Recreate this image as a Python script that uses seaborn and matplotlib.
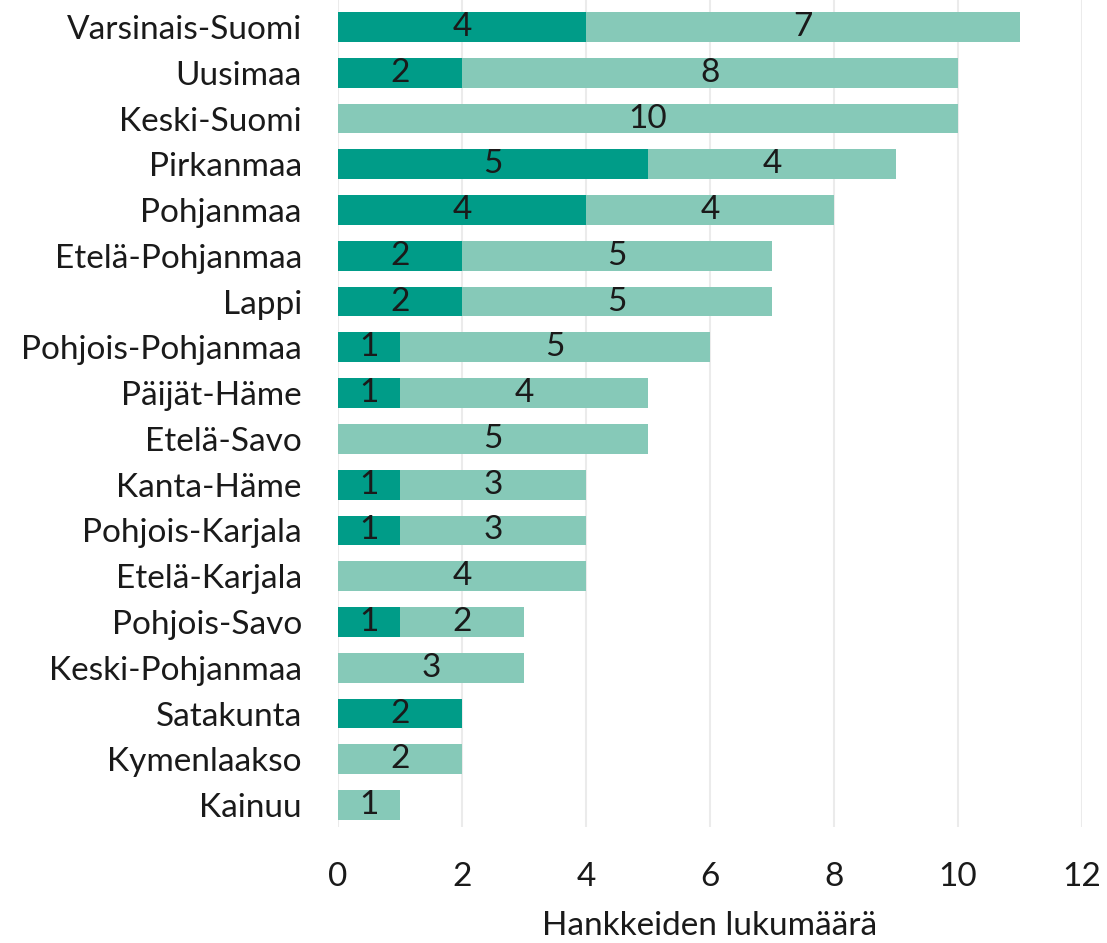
import matplotlib
matplotlib.use("Agg")
import matplotlib.pyplot as plt
import seaborn as sns
import pandas as pd

regions = ["Varsinais-Suomi", "Uusimaa", "Keski-Suomi", "Pirkanmaa", "Pohjanmaa",
           "Etelä-Pohjanmaa", "Lappi", "Pohjois-Pohjanmaa", "Päijät-Häme", "Etelä-Savo",
           "Kanta-Häme", "Pohjois-Karjala", "Etelä-Karjala", "Pohjois-Savo",
           "Keski-Pohjanmaa", "Satakunta", "Kymenlaakso", "Kainuu"]
dark_vals = [4, 2, 0, 5, 4, 2, 2, 1, 1, 0, 1, 1, 0, 1, 0, 2, 0, 0]
light_vals = [7, 8, 10, 4, 4, 5, 5, 5, 4, 5, 3, 3, 4, 2, 3, 0, 2, 1]
x_ticks = [0, 2, 4, 6, 8, 10, 12]
x_label = "Hankkeiden lukumäärä"

DARK = "#009C88"
LIGHT = "#86C9B8"
FS = 24

sns.set_theme(style="white")
plt.rcParams["font.family"] = ["Lato", "DejaVu Sans"]

df = pd.DataFrame({"region": regions, "dark": dark_vals, "light": light_vals})
df["total"] = df["dark"] + df["light"]

fig = plt.figure(figsize=(11.07, 9.43), dpi=100)
ax = fig.add_axes([0.3053, 0.123, 0.6721, 0.877])

sns.barplot(data=df, y="region", x="total", color=LIGHT, orient="h",
            width=0.65, saturation=1, linewidth=0, ax=ax, zorder=2)
sns.barplot(data=df, y="region", x="dark", color=DARK, orient="h",
            width=0.65, saturation=1, linewidth=0, ax=ax, zorder=3)

# labels
dark_container = ax.containers[1]
ax.bar_label(dark_container, labels=[str(v) if v > 0 else "" for v in dark_vals],
             label_type="center", fontsize=FS, color="#1a1a1a")
for i, (d, l) in enumerate(zip(dark_vals, light_vals)):
    if l > 0:
        ax.text(d + l / 2, i, str(l), ha="center", va="center",
                fontsize=FS, color="#1a1a1a", zorder=4)

ax.set_xlim(0, 12)
ax.set_ylim(17.48, -0.59)
ax.set_xticks(x_ticks)
ax.set_xticklabels([str(t) for t in x_ticks])
ax.set_xlabel(x_label, fontsize=FS, color="#1a1a1a", labelpad=14)
ax.set_ylabel("")
ax.tick_params(axis="both", length=0, labelsize=FS, labelcolor="#1a1a1a")
ax.tick_params(axis="y", pad=26)
ax.tick_params(axis="x", pad=25)
ax.xaxis.grid(True, color="#ebebeb", linewidth=1.5, zorder=0)
ax.set_axisbelow(True)
for s in ax.spines.values():
    s.set_visible(False)

fig.savefig("out.png", dpi=100)
